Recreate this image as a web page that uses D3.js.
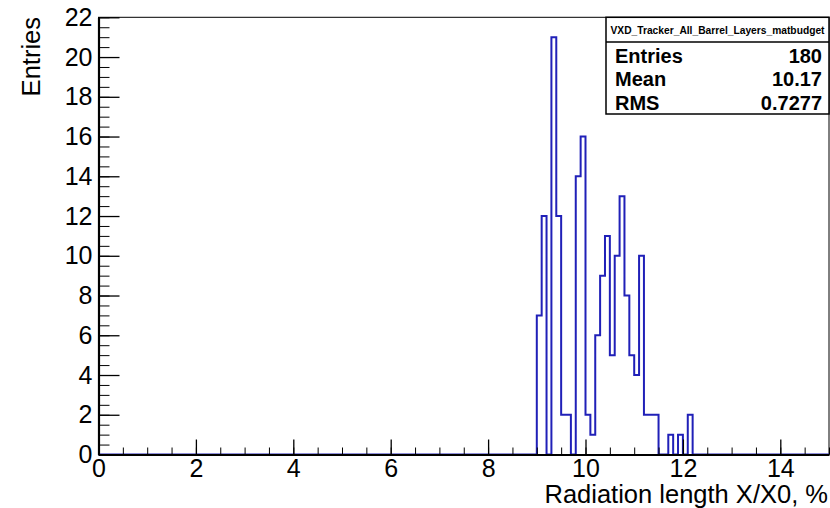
<!DOCTYPE html>
<html>
<head>
<meta charset="utf-8">
<script src="https://cdn.jsdelivr.net/npm/d3@7"></script>
<style>
  body { margin: 0; background: #fff; }
  svg { display: block; }
  text { font-family: "Liberation Sans", Arial, sans-serif; }
</style>
</head>
<body>
<script>
// Histogram content: lower edge of each filled bin and its count
const binEdges = [9.0, 9.1, 9.2, 9.3, 9.4, 9.5, 9.6, 9.7, 9.8, 9.9,
  10.0, 10.1, 10.2, 10.3, 10.4, 10.5, 10.6, 10.7, 10.8, 10.9,
  11.0, 11.1, 11.2, 11.3, 11.4, 11.5, 11.6, 11.7, 11.8, 11.9,
  12.0, 12.1];
const binCounts = [7, 12, 0, 21, 12, 2, 2, 0, 14, 16,
  2, 1, 6, 9, 11, 5, 10, 13, 8, 5,
  4, 10, 2, 2, 2, 0, 0, 1, 0, 1,
  0, 2];
const binWidth = 0.1;

const xMajorTicks = [0, 2, 4, 6, 8, 10, 12, 14];
const yMajorTicks = [0, 2, 4, 6, 8, 10, 12, 14, 16, 18, 20, 22];

const statsTitle = "VXD_Tracker_All_Barrel_Layers_matbudget";
const statsNames = ["Entries", "Mean", "RMS"];
const statsValues = ["180", "10.17", "0.7277"];

const W = 830, H = 508;
const frame = { left: 98.5, right: 829, top: 17.3, bottom: 454.5 };

const svg = d3.select("body").append("svg")
  .attr("width", W)
  .attr("height", H);

const x = d3.scaleLinear().domain([0, 15]).range([frame.left, frame.right]);
const y = d3.scaleLinear().domain([0, 22]).range([frame.bottom, frame.top]);

// frame (top and right, thin)
svg.append("rect")
  .attr("x", frame.left)
  .attr("y", frame.top)
  .attr("width", frame.right - frame.left)
  .attr("height", frame.bottom - frame.top)
  .attr("fill", "none")
  .attr("stroke", "#000")
  .attr("stroke-width", 1);

// histogram outline, runs along zero outside the filled bins
const lastEdge = binEdges[binEdges.length - 1] + binWidth;
const pts = [[0, 0]]
  .concat(binEdges.map((e, i) => [e, binCounts[i]]))
  .concat([[lastEdge, 0], [15, 0]]);

const line = d3.line()
  .x(d => x(d[0]))
  .y(d => y(d[1]))
  .curve(d3.curveStepAfter);

svg.append("path")
  .datum(pts)
  .attr("d", line)
  .attr("fill", "none")
  .attr("stroke", "#2020b8")
  .attr("stroke-width", 2);

// X axis: minor ticks every 0.5, major every 2
const xMinor = d3.range(0, 15.01, 0.5);
svg.append("g")
  .attr("transform", `translate(0,${frame.bottom})`)
  .call(d3.axisBottom(x).tickValues(xMinor).tickSize(-7).tickSizeOuter(0).tickFormat(""))
  .call(g => g.select(".domain").remove());

svg.append("g")
  .attr("transform", `translate(0,${frame.bottom})`)
  .call(d3.axisBottom(x).tickValues(xMajorTicks).tickSize(-15).tickSizeOuter(0).tickPadding(5).tickFormat(d3.format("d")))
  .call(g => g.select(".domain").attr("stroke-width", 2.2))
  .call(g => g.selectAll("text").style("font-size", "25px").attr("fill", "#000"))
  .call(g => g.selectAll("line").attr("stroke-width", 1.3));

// Y axis: minor ticks every 0.5, major every 2
const yMinor = d3.range(0, 22.01, 0.5);
svg.append("g")
  .attr("transform", `translate(${frame.left},0)`)
  .call(d3.axisLeft(y).tickValues(yMinor).tickSize(-11).tickSizeOuter(0).tickFormat(""))
  .call(g => g.select(".domain").remove());

svg.append("g")
  .attr("transform", `translate(${frame.left},0)`)
  .call(d3.axisLeft(y).tickValues(yMajorTicks).tickSize(-21).tickSizeOuter(0).tickPadding(6).tickFormat(d3.format("d")))
  .call(g => g.select(".domain").attr("stroke-width", 2.2))
  .call(g => g.selectAll("text").style("font-size", "25px").attr("fill", "#000"))
  .call(g => g.selectAll("line").attr("stroke-width", 1.3));

// axis titles
svg.append("text")
  .attr("x", 828)
  .attr("y", 503)
  .attr("text-anchor", "end")
  .style("font-size", "25.5px")
  .text("Radiation length X/X0, %");

svg.append("text")
  .attr("transform", "translate(39.5,17) rotate(-90)")
  .attr("text-anchor", "end")
  .style("font-size", "25.5px")
  .text("Entries");

// stats box
const box = { x0: 606, x1: 829, y0: 17.3, y1: 114, sep: 42 };
svg.append("rect")
  .attr("x", box.x0)
  .attr("y", box.y0)
  .attr("width", box.x1 - box.x0)
  .attr("height", box.y1 - box.y0)
  .attr("fill", "#fff")
  .attr("stroke", "#000")
  .attr("stroke-width", 1.5);

svg.append("line")
  .attr("x1", box.x0).attr("x2", box.x1)
  .attr("y1", box.sep).attr("y2", box.sep)
  .attr("stroke", "#000")
  .attr("stroke-width", 1.5);

svg.append("text")
  .attr("x", (box.x0 + box.x1) / 2)
  .attr("y", 33.5)
  .attr("text-anchor", "middle")
  .attr("textLength", 214)
  .attr("lengthAdjust", "spacingAndGlyphs")
  .style("font-size", "10px")
  .style("font-weight", "bold")
  .text(statsTitle);

const rowY = d3.scalePoint().domain(statsNames).range([62.5, 109.5]);

statsNames.forEach((n, i) => {
  svg.append("text")
    .attr("x", 615)
    .attr("y", rowY(n))
    .style("font-size", "20px")
    .style("font-weight", "bold")
    .text(n);
  svg.append("text")
    .attr("x", 822)
    .attr("y", rowY(n))
    .attr("text-anchor", "end")
    .style("font-size", "20px")
    .style("font-weight", "bold")
    .text(statsValues[i]);
});
</script>
</body>
</html>
